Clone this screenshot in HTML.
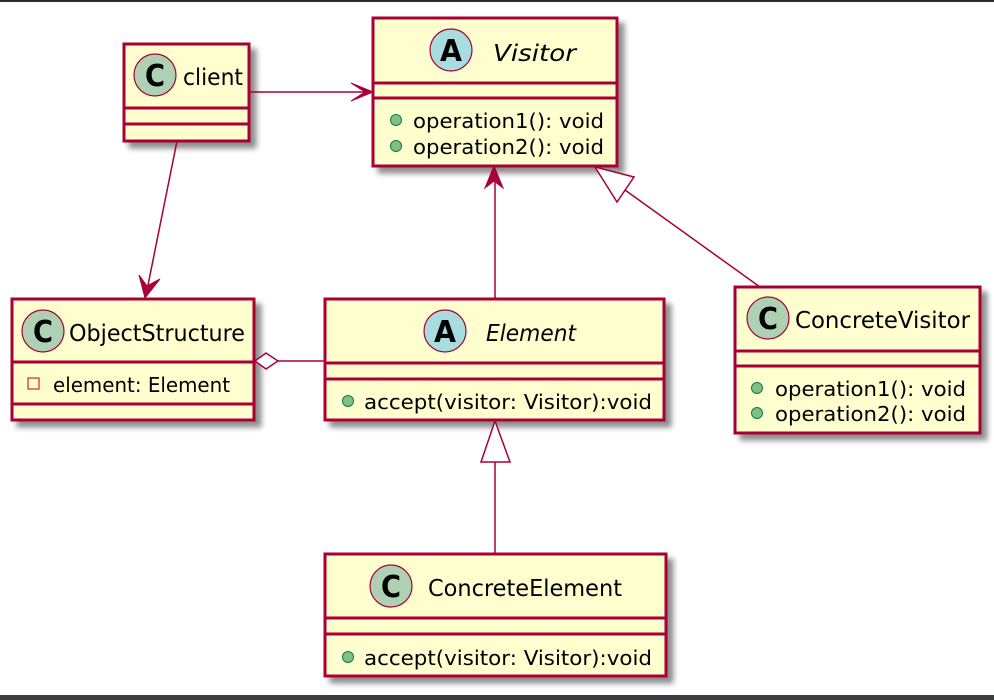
<!DOCTYPE html>
<html><head><meta charset="utf-8"><style>
html,body{margin:0;padding:0;background:#fff;}
svg{display:block;}
text{font-family:"DejaVu Sans","Liberation Sans",sans-serif;fill:#000;}
</style></head><body>
<svg width="994" height="700" viewBox="0 0 994 700" xmlns="http://www.w3.org/2000/svg">
<defs>
<filter id="sh" x="-10%" y="-10%" width="130%" height="130%">
<feGaussianBlur in="SourceAlpha" stdDeviation="3"/>
<feOffset dx="6" dy="6"/>
<feComponentTransfer><feFuncA type="linear" slope="0.45"/></feComponentTransfer>
<feMerge><feMergeNode/><feMergeNode in="SourceGraphic"/></feMerge>
</filter>
</defs>
<rect x="0" y="0" width="994" height="2" fill="#2d2d2d"/>
<rect x="0" y="695" width="994" height="5" fill="#3a3d40"/>

<g stroke="#a80036" stroke-width="3" fill="#fefece">
<rect x="124" y="44" width="125" height="97" filter="url(#sh)"/>
<line x1="124" y1="108" x2="249" y2="108"/>
<line x1="124" y1="124" x2="249" y2="124"/>
<rect x="373" y="18" width="244" height="148" filter="url(#sh)"/>
<line x1="373" y1="83" x2="617" y2="83"/>
<line x1="373" y1="98" x2="617" y2="98"/>
<rect x="12" y="299" width="242" height="121" filter="url(#sh)"/>
<line x1="12" y1="362" x2="254" y2="362"/>
<line x1="12" y1="404" x2="254" y2="404"/>
<rect x="325" y="299" width="339" height="121" filter="url(#sh)"/>
<line x1="325" y1="363" x2="664" y2="363"/>
<line x1="325" y1="379" x2="664" y2="379"/>
<rect x="735" y="287" width="245" height="146" filter="url(#sh)"/>
<line x1="735" y1="351" x2="980" y2="351"/>
<line x1="735" y1="366" x2="980" y2="366"/>
<rect x="325" y="554" width="341" height="122" filter="url(#sh)"/>
<line x1="325" y1="618" x2="666" y2="618"/>
<line x1="325" y1="634" x2="666" y2="634"/>
</g>

<g stroke="#a80036" stroke-width="1.5" fill="none">
<line x1="249" y1="92" x2="370" y2="92"/>
<line x1="177" y1="141" x2="146" y2="295"/>
<line x1="495" y1="299" x2="495" y2="170"/>
<line x1="625" y1="190" x2="760" y2="287"/>
<line x1="495" y1="554" x2="495" y2="462"/>
<line x1="278" y1="361" x2="325" y2="361"/>
</g>
<g fill="#a80036" stroke="#a80036" stroke-width="1">
<polygon points="373,92 351,83 365,92 351,101"/>
<polygon points="145,298 139,275 147,286 160,279"/>
<polygon points="494,166 485,188 494,181 503,188"/>
</g>
<g fill="#fff" stroke="#a80036" stroke-width="1.5">
<polygon points="595,167 634,177 617,202"/>
<polygon points="495,421 481,462 510,462"/>
<polygon points="255,361 266,353 278,361 266,369"/>
</g>

<g stroke="#a80036" stroke-width="1.2">
<circle cx="155" cy="75" r="21" fill="#add1b2"/>
<circle cx="451" cy="50" r="21" fill="#a9dcdf"/>
<circle cx="43" cy="331" r="21" fill="#add1b2"/>
<circle cx="445" cy="331" r="21" fill="#a9dcdf"/>
<circle cx="768" cy="318" r="21" fill="#add1b2"/>
<circle cx="391" cy="586" r="21" fill="#add1b2"/>
</g>
<g font-weight="bold" font-size="30" text-anchor="middle">
<text x="155" y="86" textLength="20" lengthAdjust="spacingAndGlyphs">C</text>
<text x="451" y="61" textLength="22" lengthAdjust="spacingAndGlyphs">A</text>
<text x="43" y="342" textLength="20" lengthAdjust="spacingAndGlyphs">C</text>
<text x="445" y="342" textLength="22" lengthAdjust="spacingAndGlyphs">A</text>
<text x="768" y="329" textLength="20" lengthAdjust="spacingAndGlyphs">C</text>
<text x="391" y="597" textLength="20" lengthAdjust="spacingAndGlyphs">C</text>
</g>

<g font-size="23">
<text x="183" y="85" textLength="60" lengthAdjust="spacingAndGlyphs">client</text>
<text x="493" y="61" font-style="italic" textLength="83" lengthAdjust="spacingAndGlyphs">Visitor</text>
<text x="69" y="341" textLength="176" lengthAdjust="spacingAndGlyphs">ObjectStructure</text>
<text x="486" y="341" font-style="italic" textLength="90" lengthAdjust="spacingAndGlyphs">Element</text>
<text x="795" y="328" textLength="175" lengthAdjust="spacingAndGlyphs">ConcreteVisitor</text>
<text x="428" y="596" textLength="194" lengthAdjust="spacingAndGlyphs">ConcreteElement</text>
</g>

<g fill="#84be84" stroke="#038048" stroke-width="1">
<circle cx="396" cy="120" r="5.5"/>
<circle cx="396" cy="146" r="5.5"/>
<circle cx="348" cy="401" r="5.5"/>
<circle cx="757" cy="388" r="5.5"/>
<circle cx="757" cy="413" r="5.5"/>
<circle cx="348" cy="657" r="5.5"/>
</g>
<rect x="28" y="378" width="11" height="11" fill="none" stroke="#c82930" stroke-width="1.2"/>

<g font-size="20.5">
<text x="413" y="128" textLength="191" lengthAdjust="spacingAndGlyphs">operation1(): void</text>
<text x="413" y="154" textLength="191" lengthAdjust="spacingAndGlyphs">operation2(): void</text>
<text x="53" y="392" textLength="177" lengthAdjust="spacingAndGlyphs">element: Element</text>
<text x="364" y="409" textLength="288" lengthAdjust="spacingAndGlyphs">accept(visitor: Visitor):void</text>
<text x="775" y="396" textLength="191" lengthAdjust="spacingAndGlyphs">operation1(): void</text>
<text x="775" y="421" textLength="191" lengthAdjust="spacingAndGlyphs">operation2(): void</text>
<text x="364" y="665" textLength="288" lengthAdjust="spacingAndGlyphs">accept(visitor: Visitor):void</text>
</g>
</svg>
</body></html>
